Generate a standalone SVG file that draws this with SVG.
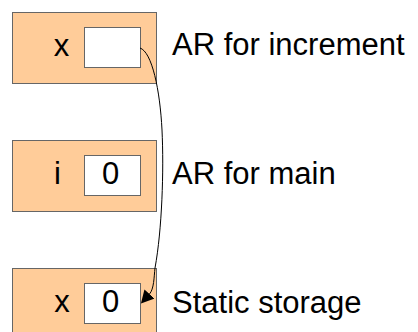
<svg xmlns="http://www.w3.org/2000/svg" width="418" height="332" viewBox="0 0 418 332">
<style>
.outer{fill:#FFCC99;stroke:#666;stroke-width:1}
.inner{fill:#fff;stroke:#666;stroke-width:1}
text{font-family:"Liberation Sans",Arial,sans-serif;font-size:31px;fill:#000}
.c{text-anchor:middle}
.conn{fill:none;stroke:#000;stroke-width:1}
</style>
<defs>
<marker id="arr" markerUnits="userSpaceOnUse" markerWidth="14" markerHeight="14" refX="0" refY="6" orient="auto" viewBox="0 0 12 12">
<path d="M0,0.2 L11,6 L0,11.8 z" fill="#000"/>
</marker>
</defs>
<g id="ar-increment">
<rect class="outer" x="12.5" y="12.5" width="144" height="71"/>
<rect class="inner" x="84.5" y="27.5" width="56" height="40"/>
<text class="c" x="61.5" y="55.5">x</text>
<text x="172" y="54.5">AR for increment</text>
</g>
<g id="ar-main">
<rect class="outer" x="12.5" y="140.5" width="144" height="71"/>
<rect class="inner" x="84.5" y="155.5" width="56" height="40"/>
<text class="c" x="57.5" y="184">i</text>
<text class="c" x="110.5" y="184">0</text>
<text x="172" y="184">AR for main</text>
</g>
<g id="static-storage">
<rect class="outer" x="12.5" y="268.5" width="144" height="71"/>
<rect class="inner" x="84.5" y="283.5" width="56" height="40"/>
<text class="c" x="62" y="312">x</text>
<text class="c" x="110.5" y="312">0</text>
<text x="172" y="312.5">Static storage</text>
</g>
<g id="connectors">
<path class="conn" marker-end="url(#arr)" d="M140,48 C152,52 160,90 162,130 C164,170 162,230 155,268 C154,277 154,289 149.5,294"/>
</g>
</svg>
